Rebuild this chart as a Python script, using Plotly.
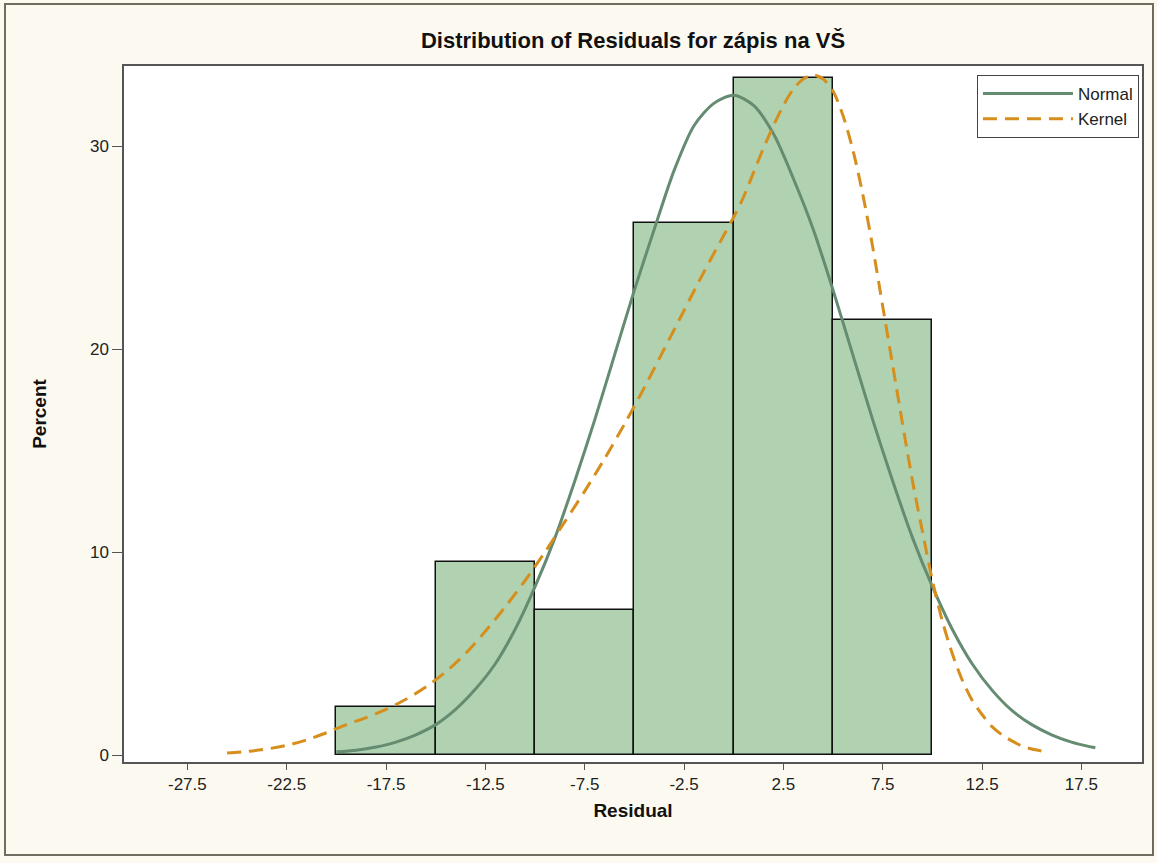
import plotly.graph_objects as go

# ---- data ----
bin_mid = [-17.5, -12.5, -7.5, -2.5, 2.5, 7.5]
bin_pct = [2.38, 9.52, 7.14, 26.19, 33.33, 21.43]
bin_width = 5

normal_x = [-20, -19, -18, -17, -16, -15, -14, -13, -12, -11, -10, -9, -8, -7, -6,
            -5, -4, -3, -2, -1, 0, 1, 2, 3, 4, 5, 6, 7, 8, 9, 10, 11, 12, 13, 14,
            15, 16, 17, 18, 18.2]
normal_y = [0.16, 0.24, 0.40, 0.64, 1.0, 1.5, 2.25, 3.25, 4.5, 6.2, 8.3, 10.7, 13.5,
            16.5, 19.7, 22.9, 25.9, 28.8, 31.0, 32.1, 32.5, 32.0, 30.6, 28.4, 25.9,
            22.9, 19.7, 16.5, 13.5, 10.7, 8.3, 6.2, 4.5, 3.2, 2.2, 1.5, 1.0, 0.64,
            0.40, 0.36]

kernel_x = [-25.5, -24.5, -23.5, -22.5, -21.5, -20.5, -19.5, -18.5, -17.5, -16.5,
            -15.5, -14.5, -13.5, -12.5, -11.5, -10.5, -9.5, -8.5, -7.5, -6.5, -5.5,
            -4.5, -3.5, -2.5, -1.5, -0.5, 0, 0.5, 1, 1.5, 2, 2.5, 3, 3.5, 4, 4.5, 5,
            5.5, 6, 6.5, 7, 7.5, 8, 8.5, 9, 9.5, 10, 10.5, 11, 11.5, 12, 12.5, 13,
            13.5, 14, 14.5, 15, 15.5]
kernel_y = [0.1, 0.18, 0.3, 0.48, 0.75, 1.1, 1.5, 1.85, 2.25, 2.75, 3.35, 4.1, 5.0,
            6.1, 7.3, 8.6, 10.0, 11.5, 13.0, 14.6, 16.3, 18.1, 20.0, 21.9, 23.8,
            25.6, 26.5, 27.5, 28.7, 29.9, 31.0, 32.0, 32.8, 33.3, 33.5, 33.3, 32.7,
            31.5, 29.8, 27.6, 25.0, 22.1, 19.2, 16.3, 13.5, 11.0, 8.6, 6.6, 5.0,
            3.7, 2.7, 2.0, 1.4, 1.0, 0.7, 0.45, 0.3, 0.2]

x_ticks = [-27.5, -22.5, -17.5, -12.5, -7.5, -2.5, 2.5, 7.5, 12.5, 17.5]
y_ticks = [0, 10, 20, 30]

FONT = "Liberation Sans Narrow, Arial Narrow, Liberation Sans, Arial, sans-serif"
TICKFONT = "Liberation Sans, Arial, sans-serif"

fig = go.Figure()
fig.add_trace(go.Bar(
    x=bin_mid, y=bin_pct, width=[bin_width] * len(bin_mid),
    marker=dict(color="#B0D2B0", line=dict(color="#111111", width=1.5)),
    showlegend=False, hoverinfo="x+y"))
fig.add_trace(go.Scatter(
    x=normal_x, y=normal_y, mode="lines", name="Normal",
    line=dict(color="#658C71", width=3, shape="spline", smoothing=0.8)))
fig.add_trace(go.Scatter(
    x=kernel_x, y=kernel_y, mode="lines", name="Kernel",
    line=dict(color="#D68E1C", width=3, dash="14px,8px", shape="spline", smoothing=0.8)))

# outer frame
fig.add_shape(type="rect", xref="paper", yref="paper",
              x0=-0.1169, x1=1.0108, y0=-0.1336, y1=1.089,
              line=dict(color="#6E6E60", width=2), layer="below")

fig.update_layout(
    width=1157, height=863,
    margin=dict(l=124, r=15, t=66, b=101),
    paper_bgcolor="#FCFAF0",
    plot_bgcolor="#FFFFFF",
    bargap=0,
    title=dict(text="<b>Distribution of Residuals for zápis na VŠ</b>",
               x=0.5, xref="paper", xanchor="center", y=0.953, yanchor="middle",
               font=dict(family=FONT, size=22, color="#111111")),
    legend=dict(x=0.997, y=0.987, xanchor="right", yanchor="top",
                bgcolor="#FFFFFF", bordercolor="#444444", borderwidth=1,
                font=dict(family=TICKFONT, size=17, color="#222222"),
                itemwidth=90, tracegroupgap=0),
    xaxis=dict(range=[-30.69, 20.55], tickvals=x_ticks,
               ticktext=[str(v) for v in x_ticks],
               showgrid=False, zeroline=False,
               showline=True, mirror=True, linecolor="#555555", linewidth=1.5,
               ticks="outside", ticklen=6, tickcolor="#555555", tickwidth=1,
               tickfont=dict(family=FONT, size=17, color="#222222"),
               title=dict(text="<b>Residual</b>", standoff=11,
                          font=dict(family=FONT, size=19, color="#111111"))),
    yaxis=dict(range=[-0.34, 33.94], tickvals=y_ticks,
               showgrid=False, zeroline=False,
               showline=True, mirror=True, linecolor="#555555", linewidth=1.5,
               ticks="outside", ticklen=10, tickcolor="#555555", tickwidth=1,
               tickfont=dict(family=TICKFONT, size=17, color="#222222"),
               title=dict(text="<b>Percent</b>", standoff=38,
                          font=dict(family=FONT, size=19, color="#111111"))),
)

fig.write_html("out.html")
